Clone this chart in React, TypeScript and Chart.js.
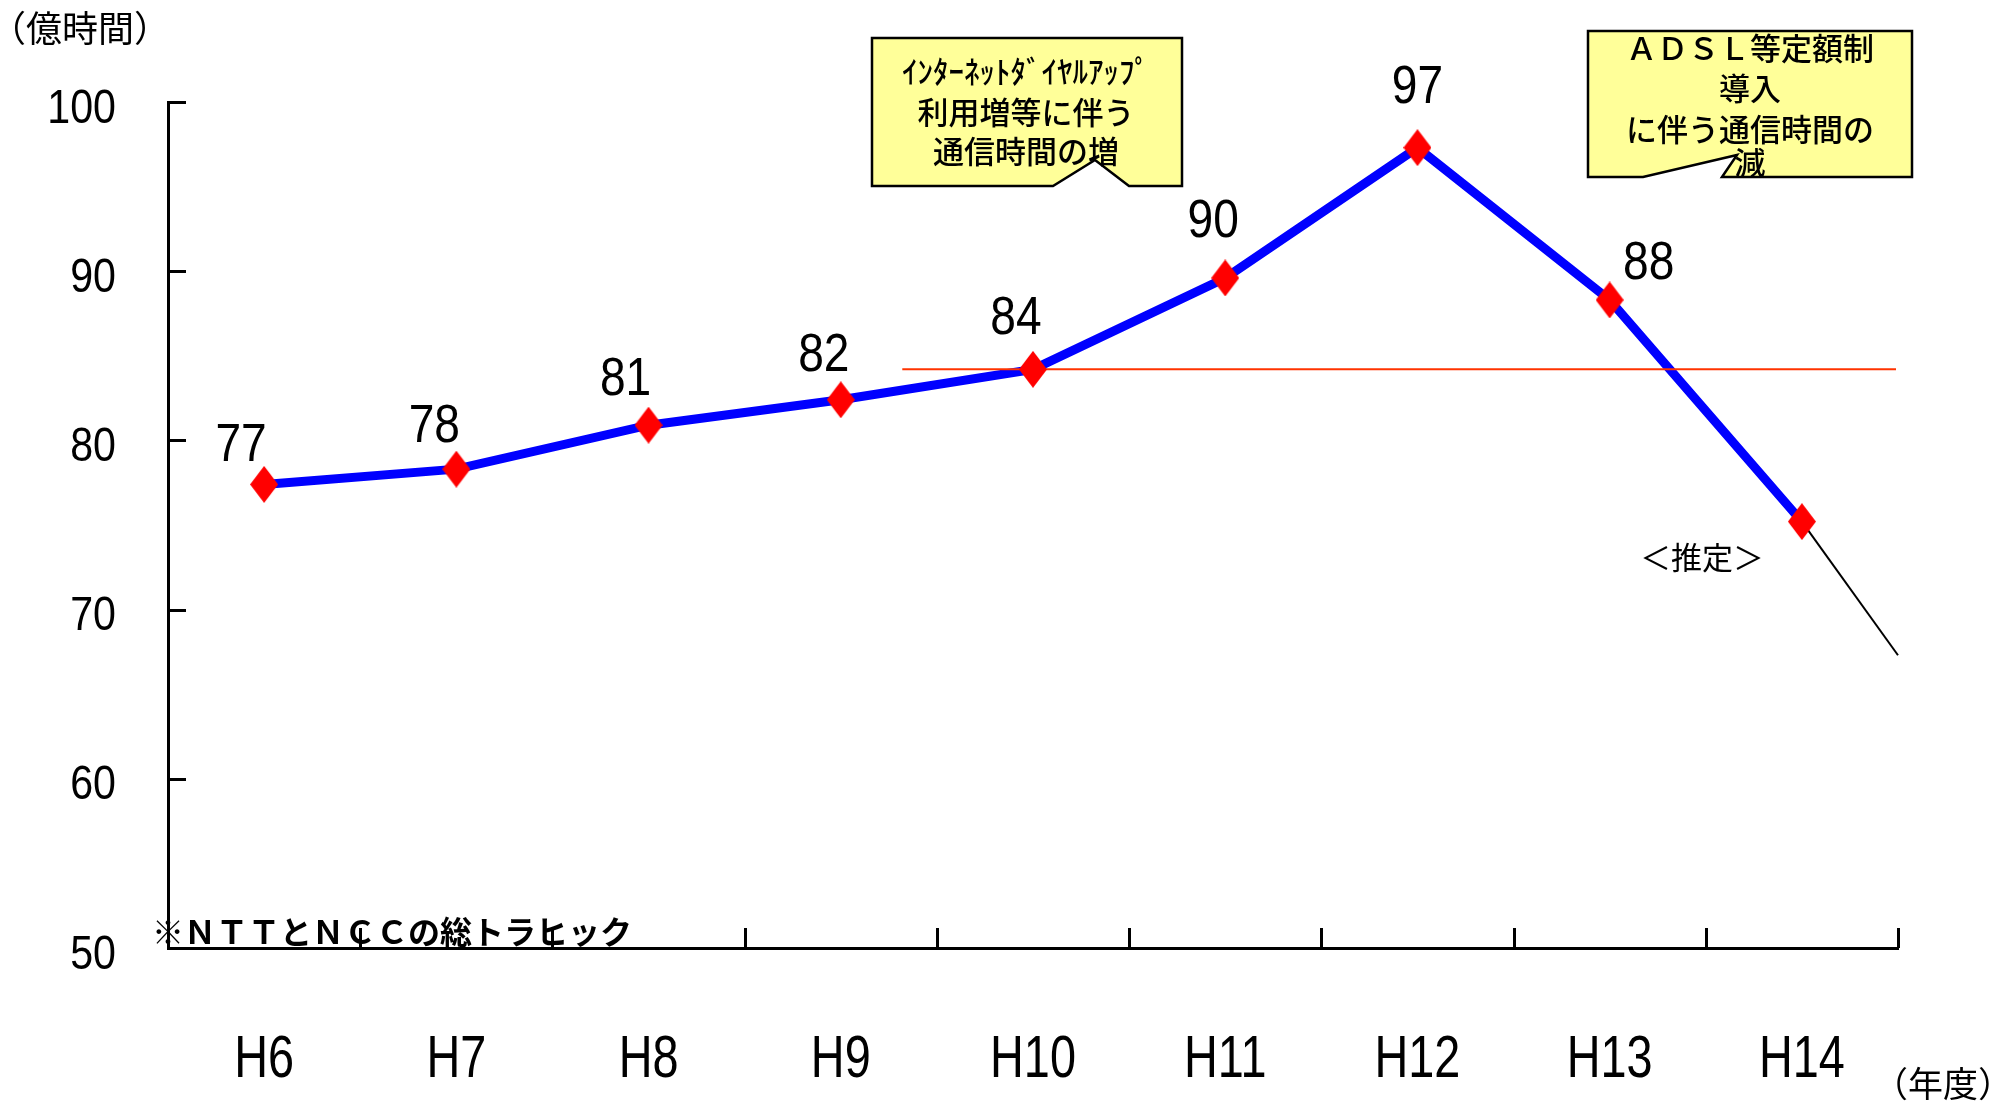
import React, { useEffect, useRef } from "react";
import { Chart, registerables } from "chart.js";

Chart.register(...registerables);

// ---- data ----
const YEARS = ["H6", "H7", "H8", "H9", "H10", "H11", "H12", "H13", "H14"];
// total call hours (100 million hours), NTT + NCC
const CALL_HOURS = [77.4, 78.3, 80.9, 82.4, 84.2, 89.6, 97.3, 88.3, 75.2];
// the H14 figure is an estimate and carries no value label
const SHOW_VALUE = [true, true, true, true, true, true, true, true, false];
const Y_TICKS = [50, 60, 70, 80, 90, 100];
const Y_MIN = 50;
const Y_MAX = 100;
const Y_STEP = 10;
// level of H10, drawn as a reference line from between H9 and H10 onward
const REFERENCE_LEVEL = CALL_HOURS[4];
const REFERENCE_FROM_INDEX = 3.32;
// end value of the estimate trend line at the right edge of the plot
const TREND_END_VALUE = 67.3;

const UNIT_LABEL = "（億時間）";
const YEAR_LABEL = "（年度）";
const NOTE = "※ＮＴＴとＮＣＣの総トラヒック";
const ESTIMATE = "＜推定＞";
const CALLOUT_UP = ["ｲﾝﾀｰﾈｯﾄﾀﾞｲﾔﾙｱｯﾌﾟ", "利用増等に伴う", "通信時間の増"];
const CALLOUT_DOWN = ["ＡＤＳＬ等定額制", "導入", "に伴う通信時間の", "減"];

// ---- layout / style ----
const W = 2012;
const H = 1103;
const PLOT_LEFT = 168;
const PLOT_BOTTOM = 948;
const LATIN = '"Liberation Sans", Arial, sans-serif';
const JP = '"Noto Sans CJK JP", sans-serif';
// numbers are set in a condensed face: Liberation Sans squeezed horizontally
const VALUE_FONT = { size: 53, squeeze: 0.87 };
const Y_TICK_FONT = { size: 49, squeeze: 0.84, right: 116 };
const X_TICK_FONT = { size: 60, squeeze: 0.78, centerY: 1056 };
const LABEL_OFFSETS: [number, number][] = [
  [-23, -42], [-22, -46], [-23, -49], [-17, -48], [-17, -54], [-12, -60], [0, -64], [39, -40], [0, -40],
];
const BOX_UP = {
  left: 872, top: 38, right: 1182, bottom: 186,
  notch: [[1053, 186], [1095, 160], [1129, 186]] as [number, number][],
  cx: 1026, lineY: [71, 112, 151],
};
const BOX_DOWN = {
  left: 1588, top: 31, right: 1912, bottom: 177,
  notch: [[1643, 177], [1737, 155], [1722, 177]] as [number, number][],
  cx: 1750, lineY: [48, 88, 129, 162],
};

function makeDiamond(w: number, h: number, color: string): HTMLCanvasElement {
  const c = document.createElement("canvas");
  c.width = w;
  c.height = h;
  const g = c.getContext("2d")!;
  g.fillStyle = color;
  g.beginPath();
  g.moveTo(w / 2, 0);
  g.lineTo(w, h / 2);
  g.lineTo(w / 2, h);
  g.lineTo(0, h / 2);
  g.closePath();
  g.fill();
  return c;
}

// draws text vertically centred on its cap height, squeezed horizontally
function condensedText(
  ctx: CanvasRenderingContext2D,
  text: string,
  x: number,
  centerY: number,
  size: number,
  squeeze: number,
  align: CanvasTextAlign
) {
  ctx.save();
  ctx.font = `${size}px ${LATIN}`;
  ctx.textAlign = align;
  ctx.textBaseline = "alphabetic";
  ctx.translate(x, centerY + 0.358 * size);
  ctx.scale(squeeze, 1);
  ctx.fillText(text, 0, 0);
  ctx.restore();
}

function drawCallout(ctx: CanvasRenderingContext2D, box: typeof BOX_UP, lines: string[]) {
  const [a, apex, b] = box.notch;
  ctx.save();
  ctx.beginPath();
  ctx.moveTo(box.left, box.top);
  ctx.lineTo(box.right, box.top);
  ctx.lineTo(box.right, box.bottom);
  ctx.lineTo(Math.max(a[0], b[0]), box.bottom);
  ctx.lineTo(apex[0], apex[1]);
  ctx.lineTo(Math.min(a[0], b[0]), box.bottom);
  ctx.lineTo(box.left, box.bottom);
  ctx.closePath();
  ctx.fillStyle = "#FFFF99";
  ctx.fill();
  ctx.lineWidth = 2.5;
  ctx.strokeStyle = "#000";
  ctx.lineJoin = "miter";
  ctx.stroke();
  ctx.fillStyle = "#000";
  ctx.textAlign = "center";
  ctx.textBaseline = "middle";
  ctx.font = `500 31px ${JP}`;
  lines.forEach((t, i) => ctx.fillText(t, box.cx, box.lineY[i]));
  ctx.restore();
}

const overlayPlugin = {
  id: "overlay",
  afterDatasetDraw(chart: any, args: any) {
    if (args.index !== 0) return;
    const { ctx, chartArea } = chart;
    const x = chart.scales.x;
    const y = chart.scales.y;
    ctx.save();
    // H10 reference level
    ctx.strokeStyle = "#FF3300";
    ctx.lineWidth = 2;
    ctx.beginPath();
    const ry = y.getPixelForValue(REFERENCE_LEVEL);
    ctx.moveTo(x.getPixelForValue(REFERENCE_FROM_INDEX), ry);
    ctx.lineTo(chartArea.right - 2, ry);
    ctx.stroke();
    // estimate trend line from the last point
    const last = CALL_HOURS.length - 1;
    ctx.strokeStyle = "#000";
    ctx.lineWidth = 2;
    ctx.beginPath();
    ctx.moveTo(x.getPixelForValue(last), y.getPixelForValue(CALL_HOURS[last]));
    ctx.lineTo(chartArea.right, y.getPixelForValue(TREND_END_VALUE));
    ctx.stroke();
    ctx.restore();
  },
  afterDraw(chart: any) {
    const { ctx, chartArea } = chart;
    const x = chart.scales.x;
    const y = chart.scales.y;
    ctx.save();
    // inward tick marks
    ctx.strokeStyle = "#000";
    ctx.lineWidth = 3;
    ctx.beginPath();
    Y_TICKS.forEach((v) => {
      if (v === Y_MIN) return;
      const py = Math.round(y.getPixelForValue(v)) + 0.5;
      ctx.moveTo(chartArea.left, py);
      ctx.lineTo(chartArea.left + 18, py);
    });
    for (let k = 1; k <= YEARS.length; k++) {
      const px = Math.round(x.getPixelForValue(k - 0.5)) + 0.5;
      ctx.moveTo(px, chartArea.bottom);
      ctx.lineTo(px, chartArea.bottom - 20);
    }
    ctx.stroke();

    ctx.fillStyle = "#000";
    // axis tick labels
    Y_TICKS.forEach((v) => {
      condensedText(ctx, String(v), Y_TICK_FONT.right, y.getPixelForValue(v) + 3, Y_TICK_FONT.size, Y_TICK_FONT.squeeze, "right");
    });
    YEARS.forEach((lab, i) => {
      condensedText(ctx, lab, x.getPixelForValue(i), X_TICK_FONT.centerY, X_TICK_FONT.size, X_TICK_FONT.squeeze, "center");
    });

    // value labels
    CALL_HOURS.forEach((v, i) => {
      if (!SHOW_VALUE[i]) return;
      const [dx, dy] = LABEL_OFFSETS[i];
      condensedText(ctx, String(Math.round(v)), x.getPixelForValue(i) + dx, y.getPixelForValue(v) + dy, VALUE_FONT.size, VALUE_FONT.squeeze, "center");
    });

    // texts
    ctx.textAlign = "center";
    ctx.textBaseline = "middle";
    ctx.font = `36px ${JP}`;
    ctx.fillText(UNIT_LABEL, 80, 28);
    ctx.font = `35px ${JP}`;
    ctx.fillText(YEAR_LABEL, 1943, 1084);
    ctx.font = `31px ${JP}`;
    ctx.fillText(ESTIMATE, 1702, 557);
    ctx.font = `bold 32px ${JP}`;
    ctx.textAlign = "left";
    ctx.fillText(NOTE, 152, 932);

    drawCallout(ctx, BOX_UP, CALLOUT_UP);
    drawCallout(ctx, BOX_DOWN, CALLOUT_DOWN);
    ctx.restore();
  },
};

export default function App() {
  const ref = useRef<HTMLCanvasElement | null>(null);
  useEffect(() => {
    if (!ref.current) return;
    const diamond = makeDiamond(28, 37, "#FF0000");
    const chart = new Chart(ref.current, {
      type: "line",
      data: {
        labels: YEARS,
        datasets: [
          {
            data: CALL_HOURS,
            borderColor: "#0000FF",
            borderWidth: 9,
            pointRadius: 0,
            tension: 0,
            fill: false,
            order: 2,
          },
          {
            data: CALL_HOURS,
            showLine: false,
            pointStyle: diamond as any,
            pointRadius: 14,
            order: 1,
          },
        ],
      },
      options: {
        animation: false,
        responsive: true,
        maintainAspectRatio: false,
        events: [],
        layout: { padding: { top: 102, right: 114, left: 0, bottom: 0 } },
        plugins: { legend: { display: false }, tooltip: { enabled: false } },
        scales: {
          x: {
            type: "category",
            offset: true,
            grid: { display: false, drawTicks: false },
            border: { display: true, color: "#000", width: 3 },
            ticks: { display: false, autoSkip: false },
            afterFit: (s: any) => {
              s.height = H - PLOT_BOTTOM;
            },
          },
          y: {
            type: "linear",
            min: Y_MIN,
            max: Y_MAX,
            grid: { display: false, drawTicks: false },
            border: { display: true, color: "#000", width: 3 },
            ticks: { display: false, stepSize: Y_STEP },
            afterFit: (s: any) => {
              s.width = PLOT_LEFT;
            },
          },
        },
      },
      plugins: [overlayPlugin],
    });
    return () => chart.destroy();
  }, []);
  return (
    <div style={{ position: "absolute", left: 0, top: 0, width: W, height: H, background: "#fff" }}>
      <canvas ref={ref} />
    </div>
  );
}
